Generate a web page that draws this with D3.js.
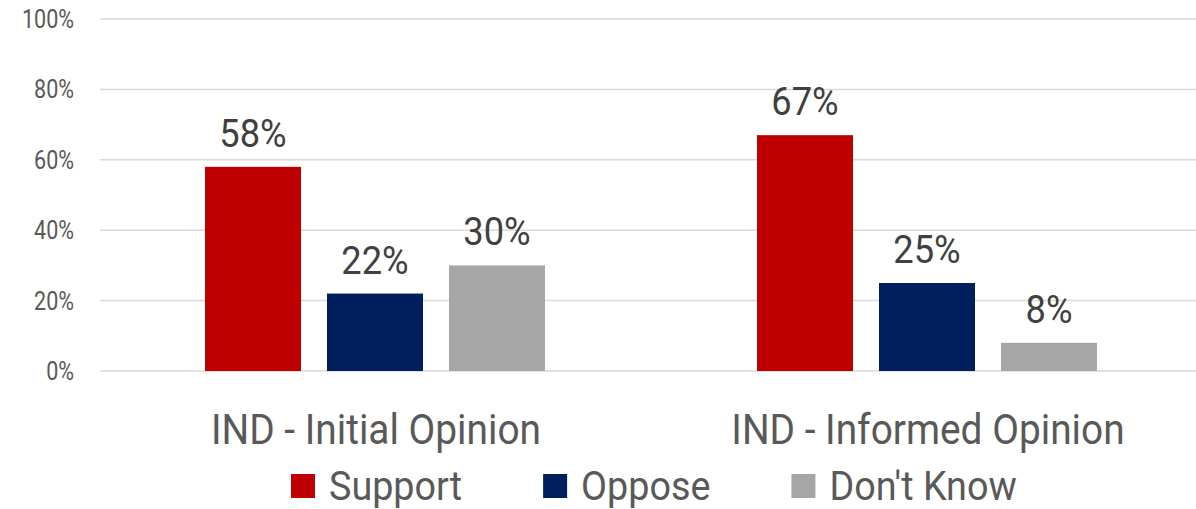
<!DOCTYPE html>
<html><head><meta charset="utf-8">
<script src="https://cdn.jsdelivr.net/npm/d3@7"></script>
<style>body{margin:0;background:#fff}svg{display:block}text{font-family:Roboto,"Liberation Sans",sans-serif}</style>
</head><body><svg id="c" width="1196" height="509"></svg>
<script>
const categories = ["IND - Initial Opinion", "IND - Informed Opinion"];
const series = ["Support", "Oppose", "Don't Know"];
const support = [58, 67];
const oppose = [22, 25];
const dontKnow = [30, 8];
const yTicks = [0, 20, 40, 60, 80, 100];
const colors = ["#C00000", "#001F5C", "#A6A6A6"];
const values = [support, oppose, dontKnow];

const svg = d3.select("#c");
const y = d3.scaleLinear().domain([0, 100]).range([371, 19]);
const x0 = d3.scaleBand().domain(categories).range([99, 1203]).padding(0);
const x1 = d3.scaleBand().domain(series).range([0, x0.bandwidth()]).paddingInner(0.2131).paddingOuter(0.8689);

function condense(sel, k){
  sel.each(function(){
    const w = this.getComputedTextLength();
    d3.select(this).attr("textLength", w * k).attr("lengthAdjust", "spacingAndGlyphs");
  });
}

// gridlines
svg.append("g").selectAll("line").data(yTicks).join("line")
  .attr("x1", 100).attr("x2", 1196)
  .attr("y1", d => y(d)).attr("y2", d => y(d))
  .attr("stroke", "#D9D9D9").attr("stroke-width", 1.5);

// y labels
const yl = svg.append("g").selectAll("text").data(yTicks).join("text")
  .attr("x", 74).attr("y", d => y(d) + 9)
  .attr("text-anchor", "end").attr("font-size", 25).attr("fill", "#595959")
  .text(d => d + "%");
condense(yl, 0.86);

// bars
const data = [];
categories.forEach((c, i) => series.forEach((s, j) => data.push({c, s, j, v: values[j][i]})));
svg.append("g").selectAll("rect").data(data).join("rect")
  .attr("x", d => x0(d.c) + x1(d.s)).attr("width", x1.bandwidth())
  .attr("y", d => y(d.v)).attr("height", d => y(0) - y(d.v))
  .attr("fill", d => colors[d.j]);

// data labels
const dl = svg.append("g").selectAll("text").data(data).join("text")
  .attr("x", d => x0(d.c) + x1(d.s) + x1.bandwidth() / 2)
  .attr("y", d => y(d.v) - 20)
  .attr("text-anchor", "middle").attr("font-size", 39).attr("fill", "#404040")
  .text(d => d.v + "%");
condense(dl, 0.93);

// category labels
const cl = svg.append("g").selectAll("text").data(categories).join("text")
  .attr("x", d => x0(d) + x0.bandwidth() / 2 + 1).attr("y", 444)
  .attr("text-anchor", "middle").attr("font-size", 42).attr("fill", "#595959")
  .text(d => d);
condense(cl, 0.925);

// legend
const lg = svg.append("g");
let lx = 291;
series.forEach((s, j) => {
  lg.append("rect").attr("x", lx).attr("y", 474).attr("width", 24).attr("height", 24).attr("fill", colors[j]);
  const t = lg.append("text").attr("x", lx + 38).attr("y", 500)
    .attr("font-size", 41).attr("fill", "#595959").text(s);
  condense(t, 0.92);
  lx += 38 + +t.attr("textLength") + 81;
});
</script></body></html>
